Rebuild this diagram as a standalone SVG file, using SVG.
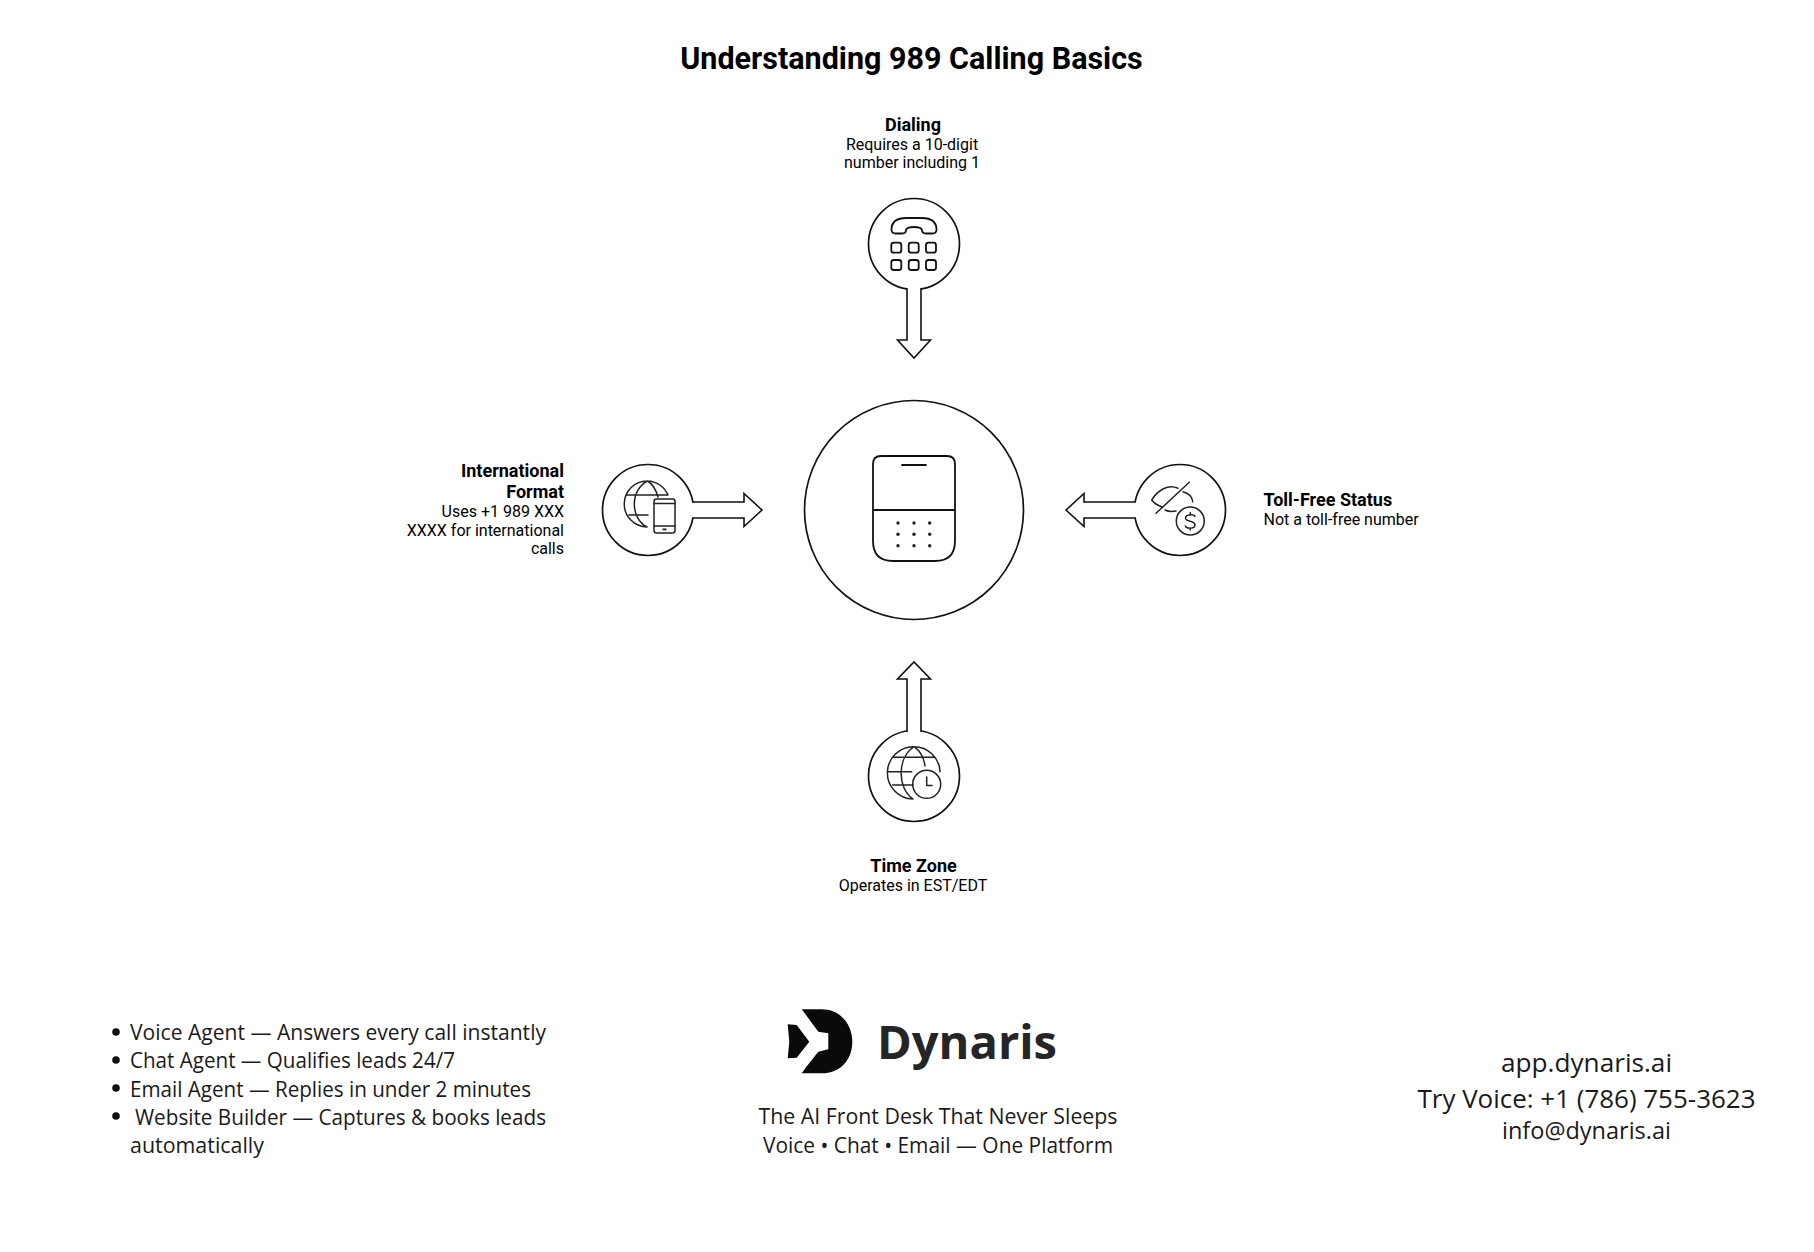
<svg xmlns="http://www.w3.org/2000/svg" width="1814" height="1252" viewBox="0 0 1814 1252">
<style>
.ln{fill:none;stroke:#111;stroke-width:1.8;stroke-linecap:round;stroke-linejoin:round}
.thin{fill:none;stroke:#222;stroke-width:1.5;stroke-linecap:round;stroke-linejoin:round}
.circ{fill:#fff;stroke:#111;stroke-width:1.7}
.arr{fill:#fff;stroke:#111;stroke-width:1.6;stroke-linejoin:miter}
.r{font-family:Roboto,"Liberation Sans",sans-serif;fill:#000}
.h{font-size:18px;font-weight:700}
.d{font-size:16px}
.e{text-anchor:end}
.m{text-anchor:middle}
.f{font-family:"Open Sans","Noto Sans",sans-serif;fill:#1a1a1a}
</style>
<rect width="1814" height="1252" fill="#fff"/>
<text id="title" class="r m" x="911.500" y="68.500" font-size="30.500" font-weight="700">Understanding 989 Calling Basics</text>

<g id="node-center">
<circle class="circ" cx="914" cy="510" r="109.500"/>
<path class="ln" d="M881 456H947Q955 456 955 464V541Q955 561 935 561H893Q873 561 873 541V464Q873 456 881 456ZM873 510H955M902 465H926"/>
<g fill="#222">
<circle cx="898" cy="523" r="1.700"/><circle cx="914" cy="523" r="1.700"/><circle cx="929.700" cy="523" r="1.700"/>
<circle cx="898" cy="534.300" r="1.700"/><circle cx="914" cy="534.300" r="1.700"/><circle cx="929.700" cy="534.300" r="1.700"/>
<circle cx="898" cy="545.700" r="1.700"/><circle cx="914" cy="545.700" r="1.700"/><circle cx="929.700" cy="545.700" r="1.700"/>
</g>
</g>

<g id="node-dialing">
<circle class="circ" cx="914" cy="244" r="45.500"/>
<path class="ln" d="M891.500 229Q892 218 906 218H922Q936 218 936.500 229Q937 233.500 932 233.500H926Q922 233.500 922 230Q921 227 914 227Q907 227 906 230Q906 233.500 902 233.500H896Q891 233.500 891.500 229Z"/>
<g class="ln">
<rect x="891.300" y="242.700" width="10" height="10" rx="2.500"/><rect x="908.700" y="242.700" width="10" height="10" rx="2.500"/><rect x="926" y="242.700" width="10" height="10" rx="2.500"/>
<rect x="891.300" y="260" width="10" height="10" rx="2.500"/><rect x="908.700" y="260" width="10" height="10" rx="2.500"/><rect x="926" y="260" width="10" height="10" rx="2.500"/>
</g>
<text class="r h m" x="913" y="130.500">Dialing</text>
<text class="r d m" x="912" y="149.500">Requires a 10-digit</text>
<text class="r d m" x="912" y="168">number including 1</text>
</g>

<g id="node-international">
<circle class="circ" cx="648" cy="510" r="45.500"/>
<path class="thin" d="M668 495A23 23 0 0 0 647.500 481A23 23 0 0 0 647 527M647.500 481C630 490 630 518 647 527M647.500 481C653 484 656 490 658 497M627 495H668M629 515H648"/>
<rect class="thin" x="654" y="499" width="21" height="34" rx="2.500"/>
<path class="thin" d="M654 503.500H675M654 526H675"/>
<rect x="662.500" y="528.500" width="4" height="1.800" fill="#222"/>
<text class="r h e" x="564" y="477">International</text>
<text class="r h e" x="564" y="498">Format</text>
<text class="r d e" x="564" y="516.500">Uses +1 989 XXX</text>
<text class="r d e" x="564" y="535.500">XXXX for international</text>
<text class="r d e" x="564" y="553.500">calls</text>
</g>

<g id="node-toll-free">
<circle class="circ" cx="1180" cy="510" r="45.500"/>
<path class="thin" d="M1189.300 482.300L1156 513.300M1178 488.300C1168 484 1158 490 1151.700 500C1154 503 1158 505.500 1161.700 506.700M1183 491.700C1188 493 1192 496 1192.700 501.700M1165 510C1168 511.500 1172 511.800 1176 511"/>
<circle class="thin" cx="1190.300" cy="521" r="14"/>
<path class="thin" d="M1195 516.500C1194 514 1186 514 1185.500 518C1185.500 522.500 1195 520 1195 525C1195 529 1186.500 529 1185.300 526M1190.300 512.500V515M1190.300 528V530"/>
<text class="r h" x="1263.500" y="505.500">Toll-Free Status</text>
<text class="r d" x="1263.500" y="524.500">Not a toll-free number</text>
</g>

<g id="node-time-zone">
<circle class="circ" cx="914" cy="776" r="45.500"/>
<path class="thin" d="M940 771.700A26 26 0 0 0 914 746.700A26 26 0 0 0 913 799M914 746.700C897 758 897 788 913 799M914 746.700C920 751 924 758 925 766M893 757.300H935M888 771.700H911.700M892.700 785H913"/>
<circle class="thin" cx="926.700" cy="784.300" r="14"/>
<path class="thin" d="M926.700 777V785.500H932"/>
<text class="r h m" x="913.500" y="871.500">Time Zone</text>
<text class="r d m" x="913" y="890.500">Operates in EST/EDT</text>
</g>

<g id="connectors">
<path class="arr" d="M907 288V340H897.500L914 358L930.500 340H921V288"/>
<path class="arr" d="M692 502H744V493.500L762 510L744 526.500V518H692"/>
<path class="arr" d="M1136 502H1084V493.500L1066 510L1084 526.500V518H1136"/>
<path class="arr" d="M907 732V679H897.500L914 662L930.500 679H921V732"/>
</g>

<g id="logo">
<path fill="#0a0a0a" d="M801.700 1009.300H821.700C840 1009.300 852.300 1024 852.300 1041.700C852.300 1060 840 1073.300 821.700 1073.300H801.700L806 1067.300L818.300 1051.700L828.300 1049.300V1033.300L818.300 1031.700L806 1015Z"/>
<path fill="#0a0a0a" d="M787.700 1024.300L796.700 1025L809.300 1041.700L796.700 1057.700L787.700 1058.300L789.300 1041.700Z"/>
<text class="f" x="877" y="1059" font-size="47" font-weight="700" style="fill:#252525" textLength="180" lengthAdjust="spacingAndGlyphs">Dynaris</text>
<text class="f m" x="938" y="1124" font-size="21" textLength="359" lengthAdjust="spacingAndGlyphs">The AI Front Desk That Never Sleeps</text>
<text class="f m" x="938" y="1153" font-size="21" textLength="350" lengthAdjust="spacingAndGlyphs">Voice • Chat • Email — One Platform</text>
</g>

<g id="features">
<circle cx="116" cy="1032" r="3.800" fill="#111"/><circle cx="116" cy="1060" r="3.800" fill="#111"/><circle cx="116" cy="1088" r="3.800" fill="#111"/><circle cx="116" cy="1116" r="3.800" fill="#111"/>
<text class="f" x="130" y="1040" font-size="21" textLength="416" lengthAdjust="spacingAndGlyphs">Voice Agent — Answers every call instantly</text>
<text class="f" x="130" y="1068" font-size="21" textLength="325" lengthAdjust="spacingAndGlyphs">Chat Agent — Qualifies leads 24/7</text>
<text class="f" x="130" y="1096.500" font-size="21" textLength="401" lengthAdjust="spacingAndGlyphs">Email Agent — Replies in under 2 minutes</text>
<text class="f" x="135" y="1124.500" font-size="21" textLength="411" lengthAdjust="spacingAndGlyphs">Website Builder — Captures &amp; books leads</text>
<text class="f" x="130" y="1152.500" font-size="21" textLength="134" lengthAdjust="spacingAndGlyphs">automatically</text>
</g>

<g id="contact">
<text class="f m" x="1586.500" y="1072" font-size="25" textLength="171" lengthAdjust="spacingAndGlyphs">app.dynaris.ai</text>
<text class="f m" x="1586.500" y="1108" font-size="25.500" textLength="338" lengthAdjust="spacingAndGlyphs">Try Voice: +1 (786) 755-3623</text>
<text class="f m" x="1586.500" y="1139" font-size="23" textLength="169" lengthAdjust="spacingAndGlyphs">info@dynaris.ai</text>
</g>
</svg>
